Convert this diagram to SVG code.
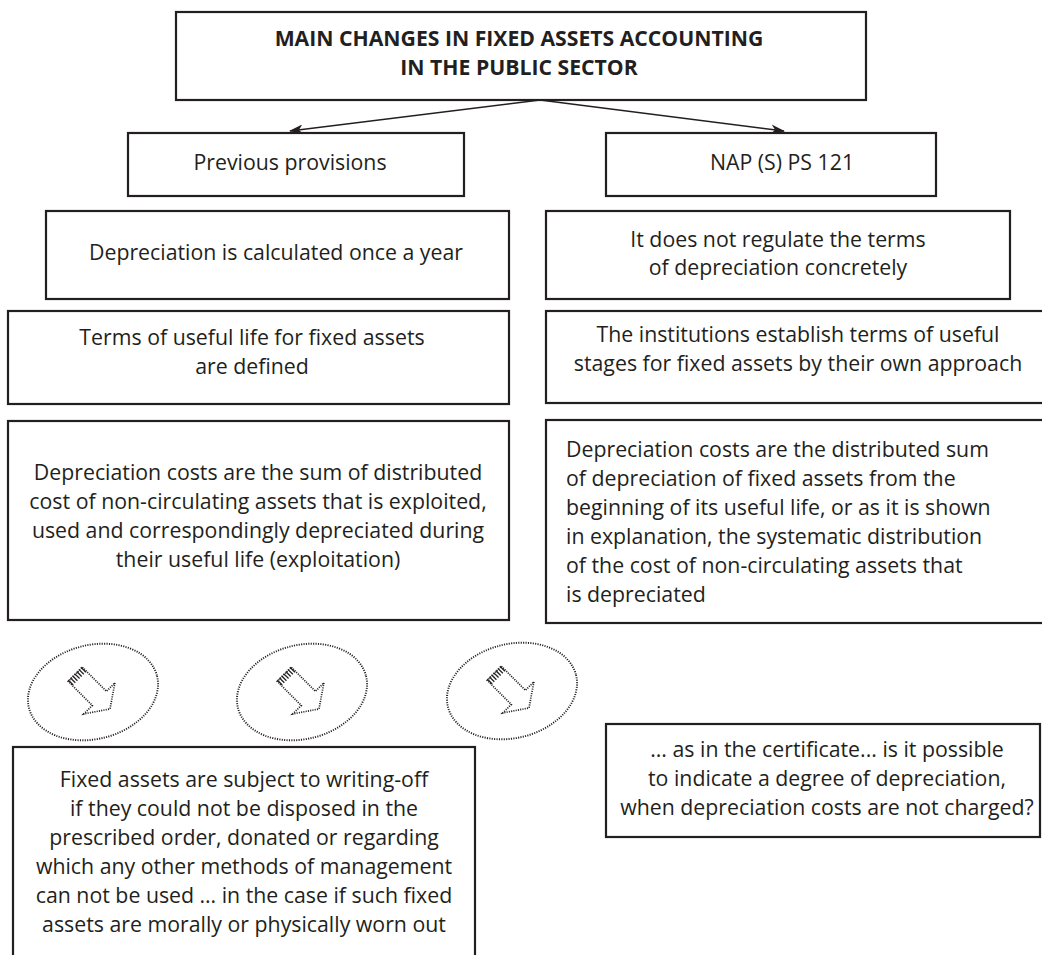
<svg xmlns="http://www.w3.org/2000/svg" width="1042" height="955" viewBox="0 0 1042 955">
<style>
.box{fill:#fff;stroke:#231f20;stroke-width:2.2}
.t{font-family:"Open Sans","Liberation Sans",sans-serif;font-size:21.3px;fill:#231f20;text-anchor:middle}
.tl{text-anchor:start}
.b{font-weight:bold;font-size:21.2px}
.conn{stroke:#231f20;stroke-width:1.4;fill:none}
.ell{fill:none;stroke:#231f20;stroke-width:1.9;stroke-dasharray:1.1 1.3}
.arr{fill:none;stroke:#231f20;stroke-width:1.7;stroke-dasharray:1.1 1.2}
.hat{stroke:#231f20;stroke-width:1.3}
</style>
<defs>
<marker id="ah" viewBox="0 0 14 10" refX="13" refY="5" markerWidth="14" markerHeight="10" markerUnits="userSpaceOnUse" orient="auto">
<path d="M0,0 L14,5 L0,10 L4,5 Z" fill="#231f20"/>
</marker>
<g id="sym">
<ellipse class="ell" cx="0" cy="0" rx="66" ry="47" transform="rotate(-14)"/>
<g transform="rotate(45)">
<path class="arr" d="M-25,-10 L9,-10 L9,-22 L24,0 L9,22 L9,10 L-25,10 Z"/>
<g class="hat">
<line x1="-26" y1="-9" x2="-19" y2="-9"/>
<line x1="-26" y1="-6" x2="-19" y2="-6"/>
<line x1="-26" y1="-3" x2="-19" y2="-3"/>
<line x1="-26" y1="0" x2="-19" y2="0"/>
<line x1="-26" y1="3" x2="-19" y2="3"/>
<line x1="-26" y1="6" x2="-19" y2="6"/>
<line x1="-26" y1="9" x2="-19" y2="9"/>
</g>
</g>
</g>
</defs>

<g id="connectors">
<line class="conn" x1="540" y1="100" x2="290" y2="131" marker-end="url(#ah)"/>
<line class="conn" x1="540" y1="100" x2="784" y2="131" marker-end="url(#ah)"/>
</g>

<g id="title">
<rect class="box" x="176" y="12" width="690" height="88"/>
<text class="t b" x="519" y="46">MAIN CHANGES IN FIXED ASSETS ACCOUNTING</text>
<text class="t b" x="519" y="75">IN  THE PUBLIC SECTOR</text>
</g>

<g id="previous">
<rect class="box" x="128" y="133" width="336" height="63"/>
<text class="t" x="290" y="170">Previous provisions</text>
</g>

<g id="nap">
<rect class="box" x="606" y="133" width="330" height="63"/>
<text class="t" x="782" y="170">NAP (S) PS 121</text>
</g>

<g id="dep-once">
<rect class="box" x="46" y="211" width="463" height="88"/>
<text class="t" x="276" y="260">Depreciation is calculated once a year</text>
</g>

<g id="not-regulate">
<rect class="box" x="546" y="211" width="464" height="88"/>
<text class="t" x="778" y="247">It does not regulate the terms</text>
<text class="t" x="778" y="275">of depreciation concretely</text>
</g>

<g id="terms">
<rect class="box" x="8" y="311" width="501" height="93"/>
<text class="t" x="252" y="345">Terms of useful life for fixed assets</text>
<text class="t" x="252" y="374">are defined</text>
</g>

<g id="institutions">
<rect class="box" x="546" y="311" width="500" height="92"/>
<text class="t" x="798" y="342">The institutions establish terms of useful</text>
<text class="t" x="798" y="371">stages for fixed assets by their own approach</text>
</g>

<g id="dep-costs-left">
<rect class="box" x="8" y="421" width="501" height="199"/>
<text class="t" x="258" y="480">Depreciation costs are the sum of distributed</text>
<text class="t" x="258" y="509">cost of non-circulating assets that is exploited,</text>
<text class="t" x="258" y="538">used and correspondingly depreciated during</text>
<text class="t" x="258" y="567">their useful life (exploitation)</text>
</g>

<g id="dep-costs-right">
<rect class="box" x="546" y="420" width="500" height="203"/>
<text class="t tl" x="566" y="457">Depreciation costs are the distributed sum</text>
<text class="t tl" x="566" y="486">of depreciation of fixed assets from the</text>
<text class="t tl" x="566" y="515">beginning of its useful life, or as it is shown</text>
<text class="t tl" x="566" y="544">in explanation, the systematic distribution</text>
<text class="t tl" x="566" y="573">of the cost of non-circulating assets that</text>
<text class="t tl" x="566" y="602">is depreciated</text>
</g>

<g id="arrow1"><use href="#sym" x="93" y="692"/></g>
<g id="arrow2"><use href="#sym" x="302" y="692"/></g>
<g id="arrow3"><use href="#sym" x="512" y="691"/></g>

<g id="writing-off">
<rect class="box" x="13" y="747" width="462" height="220"/>
<text class="t" x="244" y="787">Fixed assets are subject to writing-off</text>
<text class="t" x="244" y="816">if they could not be disposed in the</text>
<text class="t" x="244" y="845">prescribed order, donated or regarding</text>
<text class="t" x="244" y="874">which any other methods of management</text>
<text class="t" x="244" y="903">can not be used … in the case if such fixed</text>
<text class="t" x="244" y="932">assets are morally or physically worn out</text>
</g>

<g id="certificate">
<rect class="box" x="606" y="724" width="434" height="113"/>
<text class="t" x="827" y="757">... as in the certificate... is it possible</text>
<text class="t" x="827" y="786">to indicate a degree of depreciation,</text>
<text class="t" x="827" y="815">when depreciation costs are not charged?</text>
</g>
</svg>
